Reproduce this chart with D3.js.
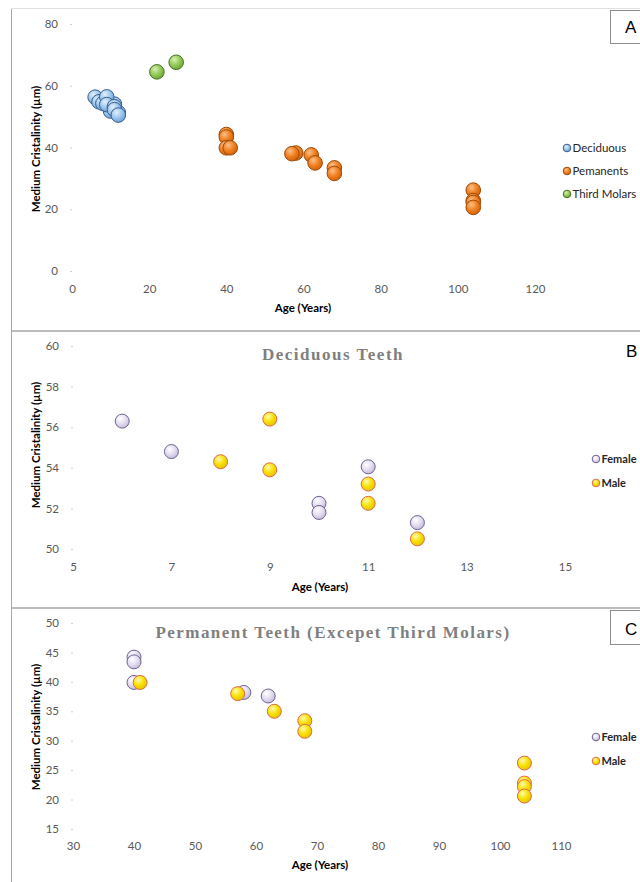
<!DOCTYPE html>
<html><head><meta charset="utf-8">
<script src="https://cdn.jsdelivr.net/npm/d3@7"></script>
<style>body{margin:0;background:#fff} svg{display:block}</style>
</head><body>
<script>
// ---- Panel A data ----
const deciduousAge   = [6, 7, 10, 10, 11, 12, 8, 9, 9, 11, 11, 12];
const deciduousCryst = [56.3, 54.8, 52.25, 51.8, 54.05, 51.3, 54.3, 56.4, 53.9, 53.2, 52.25, 50.5];
const permanentAge   = [40, 40, 40, 58, 62, 41, 57, 63, 68, 68, 104, 104, 104, 104];
const permanentCryst = [44.2, 43.4, 39.9, 38.2, 37.6, 39.9, 38.0, 35.0, 33.4, 31.6, 26.2, 22.8, 22.2, 20.6];
const thirdMolarAge   = [22, 27];
const thirdMolarCryst = [64.5, 67.6];
const seriesNamesA = ["Deciduous", "Pemanents", "Third Molars"];
const xTicksA = [0, 20, 40, 60, 80, 100, 120];
const yTicksA = [0, 20, 40, 60, 80];

// ---- Panel B data (Deciduous Teeth) ----
const decFemaleAge   = [6, 7, 10, 10, 11, 12];
const decFemaleCryst = [56.3, 54.8, 52.25, 51.8, 54.05, 51.3];
const decMaleAge     = [8, 9, 9, 11, 11, 12];
const decMaleCryst   = [54.3, 56.4, 53.9, 53.2, 52.25, 50.5];
const xTicksB = [5, 7, 9, 11, 13, 15];
const yTicksB = [50, 52, 54, 56, 58, 60];

// ---- Panel C data (Permanent Teeth) ----
const permFemaleAge   = [40, 40, 40, 58, 62];
const permFemaleCryst = [44.2, 43.4, 39.9, 38.2, 37.6];
const permMaleAge     = [41, 57, 63, 68, 68, 104, 104, 104, 104];
const permMaleCryst   = [39.9, 38.0, 35.0, 33.4, 31.6, 26.2, 22.8, 22.2, 20.6];
const xTicksC = [30, 40, 50, 60, 70, 80, 90, 100, 110];
const yTicksC = [15, 20, 25, 30, 35, 40, 45, 50];
const sexNames = ["Female", "Male"];

const W = 640, H = 882;
const svg = d3.select("body").append("svg").attr("width", W).attr("height", H);
const defs = svg.append("defs");

const palettes = {
  blue:   {hi: "#e3effa", mid: "#9cc6ee", lo: "#6a9fd4", stroke: "#3b5f8c"},
  orange: {hi: "#fbc08a", mid: "#f07f1e", lo: "#d2610a", stroke: "#9c4a08"},
  green:  {hi: "#d7efb2", mid: "#93c957", lo: "#6fa535", stroke: "#4a7424"},
  lav:    {hi: "#ffffff", mid: "#e4dcf0", lo: "#c6bbdc", stroke: "#6c6490"},
  yel:    {hi: "#fffbb0", mid: "#f8e000", lo: "#e2c400", stroke: "#e0694c"}
};
Object.entries(palettes).forEach(([k, p]) => {
  const g = defs.append("radialGradient").attr("id", "g-" + k)
    .attr("cx", "38%").attr("cy", "32%").attr("r", "70%");
  g.append("stop").attr("offset", "0%").attr("stop-color", p.hi);
  g.append("stop").attr("offset", "55%").attr("stop-color", p.mid);
  g.append("stop").attr("offset", "100%").attr("stop-color", p.lo);
});

const tickFont = "Lato, 'Open Sans', sans-serif";
const tickSize = 11.5;

// frame lines
const frame = svg.append("g").attr("stroke", "#a6a6a6").attr("fill", "none");
frame.append("line").attr("x1", 11.5).attr("x2", 11.5).attr("y1", 9).attr("y2", H);
frame.append("line").attr("x1", 11).attr("x2", W).attr("y1", 8.5).attr("y2", 8.5).attr("stroke", "#e0e0e0");
frame.append("line").attr("x1", 11).attr("x2", W).attr("y1", 331).attr("y2", 331).attr("stroke-width", 1.5);
frame.append("line").attr("x1", 11).attr("x2", W).attr("y1", 608).attr("y2", 608).attr("stroke-width", 1.5);

function panel(cfg) {
  const x = d3.scaleLinear().domain(cfg.xDomain).range(cfg.xRange);
  const y = d3.scaleLinear().domain(cfg.yDomain).range(cfg.yRange);
  const g = svg.append("g");

  const ya = g.append("g").attr("transform", `translate(${cfg.xRange[0]},0)`)
    .call(d3.axisLeft(y).tickValues(cfg.yTicks).tickSize(2).tickPadding(12));
  ya.select(".domain").remove();
  ya.selectAll("line").attr("stroke", "#d0d0d0");
  ya.selectAll("text").attr("font-family", tickFont).attr("font-size", tickSize).attr("fill", "#595959");

  const xa = g.append("g").attr("transform", `translate(0,${cfg.yRange[0]})`)
    .call(d3.axisBottom(x).tickValues(cfg.xTicks).tickSize(0).tickPadding(cfg.xPad));
  xa.select(".domain").remove();
  xa.selectAll("text").attr("font-family", tickFont).attr("font-size", tickSize).attr("fill", "#595959");

  g.append("text").attr("x", cfg.xTitlePos[0]).attr("y", cfg.xTitlePos[1])
    .attr("text-anchor", "middle").attr("font-family", tickFont).attr("font-weight", "bold")
    .attr("font-size", 11.5).attr("fill", "#000").text("Age (Years)");
  g.append("text").attr("transform", `translate(${cfg.yTitlePos[0]},${cfg.yTitlePos[1]}) rotate(-90)`)
    .attr("text-anchor", "middle").attr("font-family", tickFont).attr("font-weight", "bold")
    .attr("font-size", 11.5).attr("fill", "#000").text("Medium Cristalinity (\u00b5m)");

  if (cfg.title) {
    g.append("text").attr("x", cfg.title.x).attr("y", cfg.title.y).attr("text-anchor", "middle")
      .attr("font-family", "'Liberation Serif', 'DejaVu Serif', serif").attr("font-weight", "bold")
      .attr("font-size", cfg.title.size).attr("letter-spacing", cfg.title.ls || 0)
      .attr("fill", "#7f7f7f").text(cfg.title.text);
  }

  cfg.series.forEach(s => {
    const p = palettes[s.pal];
    const pts = s.ages.map((a, i) => ({a, v: s.vals[i]}));
    g.append("g").selectAll("circle").data(pts).join("circle")
      .attr("cx", d => x(d.a)).attr("cy", d => y(d.v)).attr("r", cfg.r)
      .attr("fill", `url(#g-${s.pal})`).attr("stroke", p.stroke).attr("stroke-width", 1);
  });

  const lg = g.append("g");
  cfg.series.forEach((s, i) => {
    const p = palettes[s.pal];
    const cy = cfg.legend.y + i * cfg.legend.dy;
    lg.append("circle").attr("cx", cfg.legend.x).attr("cy", cy).attr("r", 3.8)
      .attr("fill", `url(#g-${s.pal})`).attr("stroke", p.stroke).attr("stroke-width", 1);
    lg.append("text").attr("x", cfg.legend.x + 5.5).attr("y", cy).attr("dy", "0.35em")
      .attr("font-family", tickFont).attr("font-size", cfg.legend.size)
      .attr("font-weight", cfg.legend.bold ? "bold" : "normal").attr("fill", "#262626").text(s.name);
  });

  const lb = cfg.label;
  if (lb.box) {
    g.append("rect").attr("x", lb.box[0]).attr("y", lb.box[1]).attr("width", lb.box[2]).attr("height", lb.box[3])
      .attr("fill", "#fff").attr("stroke", "#8c8c8c").attr("stroke-width", 1);
  }
  g.append("text").attr("x", lb.x).attr("y", lb.y).attr("font-family", "'Liberation Sans', Arial, sans-serif")
    .attr("font-size", 17).attr("fill", "#000").text(lb.text);
}

panel({
  xDomain: [0, 120], xRange: [72, 535], yDomain: [0, 80], yRange: [271, 24],
  xTicks: xTicksA, yTicks: yTicksA, xPad: 13.8, r: 7.3,
  xTitlePos: [303, 312], yTitlePos: [40, 149],
  series: [
    {name: seriesNamesA[0], ages: deciduousAge, vals: deciduousCryst, pal: "blue"},
    {name: seriesNamesA[1], ages: permanentAge, vals: permanentCryst, pal: "orange"},
    {name: seriesNamesA[2], ages: thirdMolarAge, vals: thirdMolarCryst, pal: "green"}
  ],
  legend: {x: 567, y: 148, dy: 23, size: 11.5, bold: false},
  label: {text: "A", x: 625, y: 33, box: [610.5, 10.5, 40, 33]}
});

panel({
  xDomain: [5, 15], xRange: [73, 565], yDomain: [50, 60], yRange: [549, 346],
  xTicks: xTicksB, yTicks: yTicksB, xPad: 13.8, r: 7,
  xTitlePos: [320, 591], yTitlePos: [40, 445],
  title: {text: "Deciduous Teeth", x: 333, y: 360, size: 17, ls: 1.5},
  series: [
    {name: sexNames[0], ages: decFemaleAge, vals: decFemaleCryst, pal: "lav"},
    {name: sexNames[1], ages: decMaleAge, vals: decMaleCryst, pal: "yel"}
  ],
  legend: {x: 596, y: 459, dy: 24, size: 11, bold: true},
  label: {text: "B", x: 626, y: 357}
});

panel({
  xDomain: [30, 110], xRange: [73, 561], yDomain: [15, 50], yRange: [829, 623],
  xTicks: xTicksC, yTicks: yTicksC, xPad: 12.8, r: 7,
  xTitlePos: [320, 869], yTitlePos: [40, 727],
  title: {text: "Permanent Teeth (Excepet Third Molars)", x: 333, y: 638, size: 17, ls: 1.45},
  series: [
    {name: sexNames[0], ages: permFemaleAge, vals: permFemaleCryst, pal: "lav"},
    {name: sexNames[1], ages: permMaleAge, vals: permMaleCryst, pal: "yel"}
  ],
  legend: {x: 596, y: 737, dy: 24, size: 11, bold: true},
  label: {text: "C", x: 625, y: 635, box: [610.5, 610.5, 40, 34]}
});
</script>
</body></html>
